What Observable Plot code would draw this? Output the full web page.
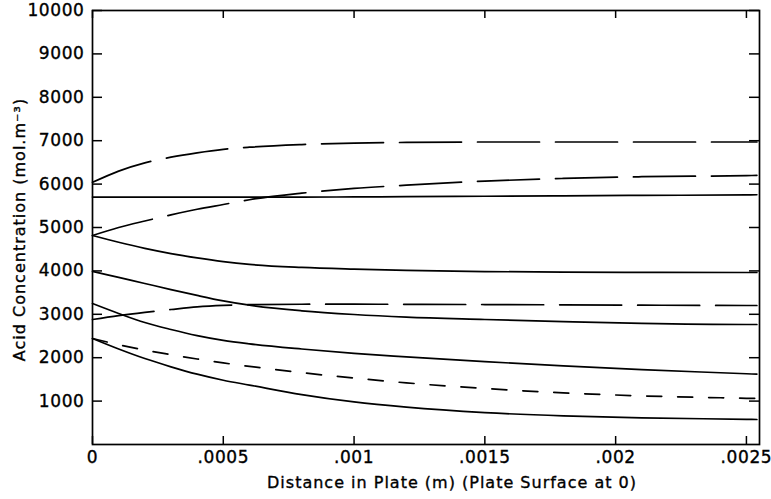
<!DOCTYPE html>
<html>
<head>
<meta charset="utf-8">
<script src="https://cdn.jsdelivr.net/npm/d3@7"></script>
<script src="https://cdn.jsdelivr.net/npm/@observablehq/plot@0.6"></script>
<style>
  body { margin: 0; background: #fff; }
  #chart svg text { letter-spacing: 0.6px; stroke: black; stroke-width: 0.35px; }
  #chart svg g[aria-label="y-axis tick label"],
  #chart svg g[aria-label="x-axis tick label"] { font-size: 17px; }
  #chart svg .axis-title text { letter-spacing: 1px; }
</style>
</head>
<body>
<div id="chart"></div>
<script>
// Distance into the plate (m), shared by every profile
const distance = [0, 0.0001, 0.0002, 0.0003, 0.0004, 0.0005, 0.0006, 0.0008, 0.001, 0.0012, 0.0015, 0.0018, 0.0021, 0.0025, 0.00254];

// Acid concentration profiles (mol.m^-3)
const flatSolid   = [5700, 5700, 5700, 5700, 5700, 5700, 5700, 5700, 5705, 5710, 5720, 5730, 5740, 5750, 5755];
const topDashed   = [6040, 6300, 6490, 6620, 6720, 6800, 6850, 6910, 6945, 6960, 6970, 6970, 6970, 6970, 6970];
const upperDashed = [4815, 5000, 5150, 5290, 5420, 5530, 5640, 5790, 5900, 5975, 6070, 6130, 6170, 6195, 6200];
const upperSolid  = [4815, 4660, 4520, 4400, 4300, 4215, 4150, 4080, 4040, 4010, 3985, 3972, 3965, 3963, 3963];
const midSolid    = [3990, 3850, 3710, 3570, 3435, 3310, 3210, 3080, 2995, 2935, 2880, 2830, 2790, 2765, 2765];
const midDashed   = [2880, 2970, 3045, 3110, 3170, 3205, 3222, 3232, 3233, 3230, 3225, 3218, 3210, 3203, 3203];
const lowerSolid  = [3249, 3020, 2810, 2650, 2510, 2400, 2320, 2200, 2100, 2020, 1910, 1810, 1725, 1630, 1620];
const shortDashed = [2442, 2300, 2175, 2070, 1970, 1880, 1800, 1655, 1530, 1420, 1290, 1190, 1120, 1065, 1060];
const bottomSolid = [2442, 2200, 1980, 1790, 1620, 1480, 1370, 1150, 980, 860, 735, 660, 615, 580, 576];

// Axis ticks and their labels
const xTicks = [0, 0.0005, 0.001, 0.0015, 0.002, 0.0025];
const xTickLabels = ["0", ".0005", ".001", ".0015", ".002", ".0025"];
const yTicks = [1000, 2000, 3000, 4000, 5000, 6000, 7000, 8000, 9000, 10000];

const toRows = (name, values) => distance.map((x, i) => ({series: name, x, y: values[i]}));

const solidRows = [
  ...toRows("flatSolid", flatSolid),
  ...toRows("upperSolid", upperSolid),
  ...toRows("midSolid", midSolid),
  ...toRows("lowerSolid", lowerSolid),
  ...toRows("bottomSolid", bottomSolid)
];
const longDashRows = [
  ...toRows("topDashed", topDashed),
  ...toRows("upperDashed", upperDashed),
  ...toRows("midDashed", midDashed)
];
const shortDashRows = toRows("shortDashed", shortDashed);

const W = 771, H = 499;
const margin = {left: 92, right: 12, top: 10, bottom: 55};
const innerW = W - margin.left - margin.right;
const innerH = H - margin.top - margin.bottom;

const lineOpts = {x: "x", y: "y", z: "series", stroke: "black", strokeWidth: 1.7, curve: "monotone-x"};

const chart = Plot.plot({
  width: W,
  height: H,
  marginLeft: margin.left,
  marginRight: margin.right,
  marginTop: margin.top,
  marginBottom: margin.bottom,
  style: {fontFamily: "'DejaVu Sans', sans-serif", fontSize: "16px", color: "black", background: "white"},
  x: {domain: [0, 0.00255]},
  y: {domain: [0, 10000]},
  marks: [
    Plot.frame({stroke: "black", strokeWidth: 1.7}),
    // inward ticks on all four sides
    Plot.ruleY(yTicks, {y: d => d, insetRight: innerW - 10, stroke: "black", strokeWidth: 1.5}),
    Plot.ruleY(yTicks, {y: d => d, insetLeft: innerW - 10, stroke: "black", strokeWidth: 1.5}),
    Plot.ruleX(xTicks, {x: d => d, insetTop: innerH - 8, stroke: "black", strokeWidth: 1.5}),
    Plot.ruleX(xTicks, {x: d => d, insetBottom: innerH - 8, stroke: "black", strokeWidth: 1.5}),
    Plot.axisY({ticks: yTicks, tickSize: 0, tickPadding: 8, tickFormat: d => String(d), label: null}),
    Plot.axisX({ticks: xTicks, tickSize: 0, tickPadding: 6, tickFormat: d => xTickLabels[xTicks.indexOf(d)], label: null}),
    Plot.line(solidRows, lineOpts),
    Plot.line(longDashRows, {...lineOpts, strokeDasharray: "62,16"}),
    Plot.line(shortDashRows, {...lineOpts, strokeDasharray: "15,16"}),
    Plot.text(["Acid Concentration (mol.m\u207B\u00B3)"], {
      frameAnchor: "left", textAnchor: "middle", dx: -73, dy: 2, rotate: -90, fontSize: 16, className: "axis-title"
    }),
    Plot.text(["Distance in Plate (m) (Plate Surface at 0)"], {
      frameAnchor: "bottom", textAnchor: "middle", dx: 26, dy: 43, fontSize: 16, className: "axis-title"
    })
  ]
});

document.getElementById("chart").appendChild(chart);
</script>
</body>
</html>
